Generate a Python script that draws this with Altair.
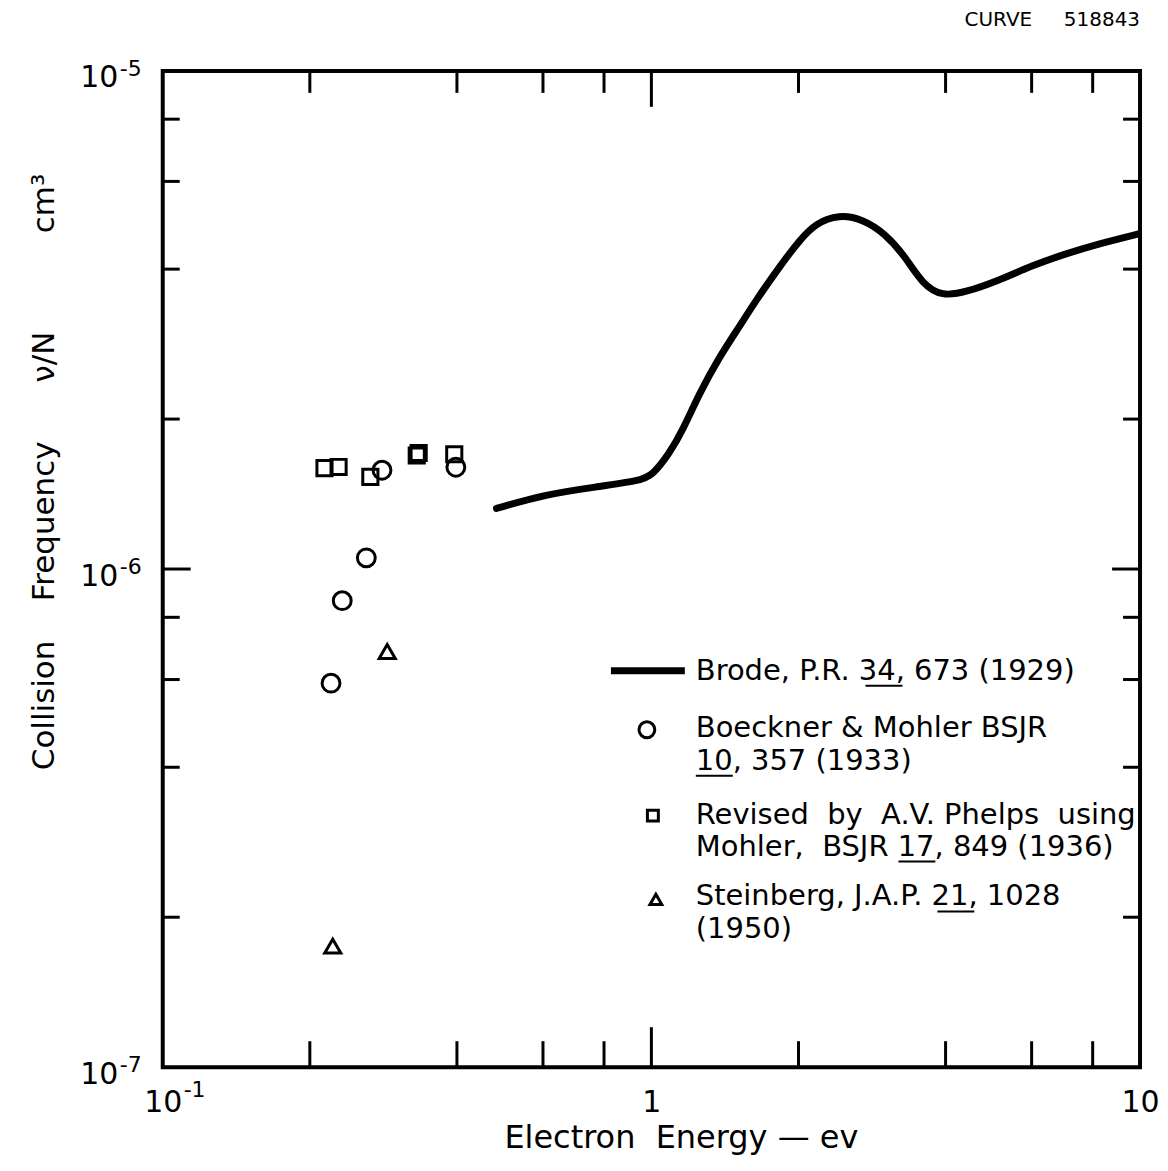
import altair as alt
import pandas as pd

# ---------------- data ----------------
# Brode, P.R. 34, 673 (1929) - solid curve
brode_energy = [0.482, 0.609, 0.771, 0.945, 1.006, 1.088, 1.159, 1.253, 1.377, 1.512,
                1.636, 1.826, 2.006, 2.170, 2.422, 2.702, 3.017, 3.314, 3.583, 3.937,
                4.395, 5.141, 6.01, 7.035, 8.226, 9.93]
brode_freq = [1.323e-6, 1.413e-6, 1.462e-6, 1.503e-6, 1.543e-6, 1.705e-6, 1.899e-6, 2.249e-6,
              2.664e-6, 3.06e-6, 3.46e-6, 4.035e-6, 4.563e-6, 4.948e-6, 5.145e-6, 5.044e-6,
              4.707e-6, 4.225e-6, 3.737e-6, 3.525e-6, 3.595e-6, 3.796e-6, 4.067e-6, 4.292e-6,
              4.494e-6, 4.707e-6]

# Boeckner & Mohler (circles)
circle_energy = [0.221, 0.233, 0.261, 0.281, 0.398]
circle_freq = [5.90e-7, 8.64e-7, 1.053e-6, 1.579e-6, 1.601e-6]

# Revised by A.V. Phelps (squares)
square_energy = [0.2143, 0.229, 0.266, 0.331, 0.334, 0.395]
square_freq = [1.594e-6, 1.603e-6, 1.531e-6, 1.69e-6, 1.71e-6, 1.70e-6]

# Steinberg (triangles)
tri_energy = [0.288, 0.2228]
tri_freq = [6.83e-7, 1.75e-7]

# axes
x_label_values = [0.1, 1, 10]
x_tick_labels = ["10", "1", "10"]
x_tick_exponents = ["-1", "", ""]
y_label_values = [1e-7, 1e-6, 1e-5]
y_tick_labels = ["10", "10", "10"]
y_tick_exponents = ["-7", "-6", "-5"]
x_minor_ticks = [0.2, 0.4, 0.6, 0.8, 2, 4, 6, 8]
x_major_ticks = [1]
y_minor_ticks = [2e-7, 4e-7, 6e-7, 8e-7, 2e-6, 4e-6, 6e-6, 8e-6]
y_major_ticks = [1e-6]

x_title = "Electron\u00a0\u00a0Energy\u00a0—\u00a0ev"
y_title = ("Collision" + "\u00a0" * 4 + "Frequency" + "\u00a0" * 6 + "ν/N"
           + "\u00a0" * 10 + "cm³")
curve_id = "CURVE" + "\u00a0" * 5 + "518843"

legend_lines = ["Brode, P.R. 34, 673 (1929)",
                "Boeckner & Mohler BSJR",
                "10, 357 (1933)",
                "Revised\u00a0\u00a0by\u00a0\u00a0A.V. Phelps\u00a0\u00a0using",
                "Mohler,\u00a0\u00a0BSJR 17, 849 (1936)",
                "Steinberg, J.A.P. 21, 1028",
                "(1950)"]

# ---------------- layout ----------------
W, H = 979, 998
FONT = "DejaVu Sans"
LFS = 29
legend_text_x = 534
legend_text_y = [601, 658, 691, 745, 777, 827, 860]
underlines = [(704, 741, 616), (534, 571, 706), (737, 774, 792), (776, 813, 842)]

xs = alt.Scale(type="log", domain=[0.1, 10], nice=False)
ys = alt.Scale(type="log", domain=[1e-7, 1e-5], nice=False)


def label_expr(values, labels):
    expr = "'" + labels[-1] + "'"
    for v, lab in reversed(list(zip(values[:-1], labels[:-1]))):
        expr = f"datum.value < {v * 3} ? '{lab}' : ({expr})"
    return expr


x_axis = alt.Axis(values=x_label_values, labelExpr=label_expr(x_label_values, x_tick_labels),
                  ticks=False, tickSize=0, domain=False, grid=False,
                  labelFont=FONT, labelFontSize=30, labelColor="black",
                  labelPadding=44, labelBaseline="alphabetic", labelFlush=False,
                  labelOverlap=False, title=x_title, titleFont=FONT, titleFontSize=32,
                  titleFontWeight="normal", titleColor="black", titleX=519, titleY=80,
                  titleBaseline="alphabetic", titleAlign="center")

y_axis = alt.Axis(values=y_label_values, labelExpr=label_expr(y_label_values, y_tick_labels),
                  ticks=False, tickSize=0, domain=False, grid=False,
                  labelFont=FONT, labelFontSize=30, labelColor="black",
                  labelPadding=45, labelBaseline="alphabetic", labelOffset=16,
                  labelAlign="right", labelFlush=False, labelOverlap=False,
                  title=y_title, titleFont=FONT, titleFontSize=31, titleFontWeight="normal",
                  titleColor="black", titleAngle=270, titleAlign="left",
                  titleBaseline="middle", titleX=-118, titleY=700)


def X(field):
    return alt.X(field, type="quantitative", scale=xs, axis=x_axis, title=x_title)


def Y(field):
    return alt.Y(field, type="quantitative", scale=ys, axis=y_axis, title=y_title)


curve_df = pd.DataFrame({"energy": brode_energy, "freq": brode_freq})
circ_df = pd.DataFrame({"energy": circle_energy, "freq": circle_freq})
sq_df = pd.DataFrame({"energy": square_energy, "freq": square_freq})
tri_df = pd.DataFrame({"energy": tri_energy, "freq": tri_freq})

curve = alt.Chart(curve_df).mark_line(color="black", strokeWidth=7, interpolate="basis",
                                      strokeCap="round").encode(
    x=X("energy"), y=Y("freq"))


def pts(df, shape, size):
    return alt.Chart(df).mark_point(shape=shape, size=size, filled=False, color="black",
                                    strokeWidth=3, opacity=1).encode(
        x=X("energy"), y=Y("freq"))


circles = pts(circ_df, "circle", 320)
squares = pts(sq_df, "square", 230)
triangles = pts(tri_df, "triangle-up", 260)


def xticks(vals, y0, y1):
    return alt.Chart(pd.DataFrame({"v": vals})).mark_rule(color="black", strokeWidth=3).encode(
        x=X("v"), y=alt.value(y0), y2=alt.value(y1))


def yticks(vals, x0, x1):
    return alt.Chart(pd.DataFrame({"v": vals})).mark_rule(color="black", strokeWidth=3).encode(
        y=Y("v"), x=alt.value(x0), x2=alt.value(x1))


ticks = [
    xticks(x_minor_ticks, H, H - 26), xticks(x_major_ticks, H, H - 40),
    xticks(x_minor_ticks, 0, 22), xticks(x_major_ticks, 0, 36),
    yticks(y_minor_ticks, 0, 17), yticks(y_major_ticks, 0, 28),
    yticks(y_minor_ticks, W, W - 17), yticks(y_major_ticks, W, W - 28),
]

# exponents of the decade labels
x_exp = alt.Chart(pd.DataFrame({"v": x_label_values, "e": x_tick_exponents})).mark_text(
    font=FONT, fontSize=22, color="black", align="left", baseline="alphabetic", dx=21).encode(
    x=X("v"), y=alt.value(H + 30), text="e:N")
y_exp = alt.Chart(pd.DataFrame({"v": y_label_values, "e": y_tick_exponents})).mark_text(
    font=FONT, fontSize=22, color="black", align="left", baseline="alphabetic", dy=5).encode(
    y=Y("v"), x=alt.value(-43), text="e:N")

dummy = pd.DataFrame({"a": [0]})
legend = []
legend.append(alt.Chart(dummy).mark_rule(color="black", strokeWidth=7).encode(
    x=alt.value(449), x2=alt.value(523), y=alt.value(601)))
legend.append(alt.Chart(dummy).mark_point(shape="circle", size=250, filled=False, color="black",
                                          strokeWidth=3, opacity=1).encode(
    x=alt.value(485), y=alt.value(660)))
legend.append(alt.Chart(dummy).mark_point(shape="square", size=120, filled=False, color="black",
                                          strokeWidth=3, opacity=1).encode(
    x=alt.value(491), y=alt.value(746)))
legend.append(alt.Chart(dummy).mark_point(shape="triangle-up", size=140, filled=False,
                                          color="black", strokeWidth=3, opacity=1).encode(
    x=alt.value(494), y=alt.value(830)))
for txt, ty in zip(legend_lines, legend_text_y):
    legend.append(alt.Chart(dummy).mark_text(font=FONT, fontSize=LFS, color="black",
                                             align="left", baseline="middle").encode(
        x=alt.value(legend_text_x), y=alt.value(ty), text=alt.value(txt)))
for x0, x1, uy in underlines:
    legend.append(alt.Chart(dummy).mark_rule(color="black", strokeWidth=2).encode(
        x=alt.value(x0), x2=alt.value(x1), y=alt.value(uy)))

curve_label = alt.Chart(dummy).mark_text(font=FONT, fontSize=20, color="black", align="right",
                                         baseline="alphabetic").encode(
    x=alt.value(W), y=alt.value(-45), text=alt.value(curve_id))

chart = alt.layer(curve, circles, squares, triangles, *ticks, x_exp, y_exp, *legend,
                  curve_label).properties(
    width=W, height=H,
    autosize="none",
    padding={"left": 155, "top": 62, "right": 20, "bottom": 95},
    background="white",
).configure_view(stroke="black", strokeWidth=4)

chart.save("out.html", embed_options={"renderer": "svg", "actions": False})
